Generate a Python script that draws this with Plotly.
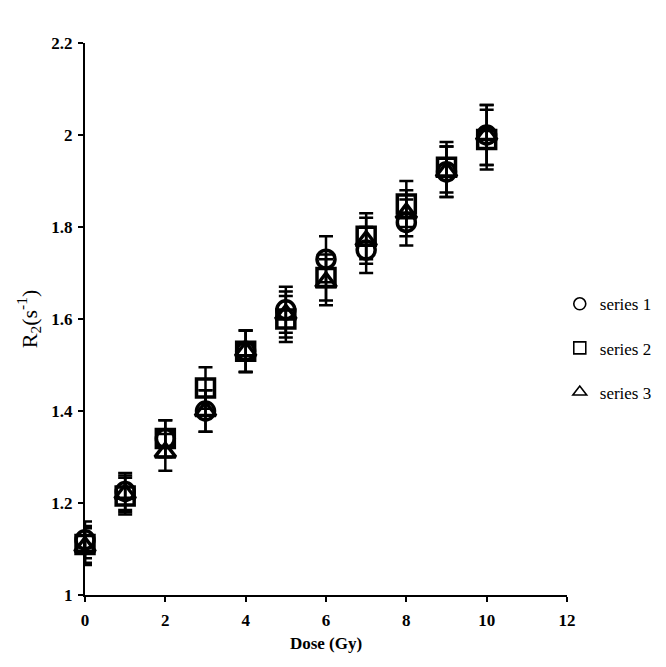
import plotly.graph_objects as go

dose = [0, 1, 2, 3, 4, 5, 6, 7, 8, 9, 10]
series1 = [1.12, 1.225, 1.34, 1.40, 1.53, 1.62, 1.73, 1.75, 1.81, 1.92, 2.00]
series2 = [1.11, 1.215, 1.34, 1.45, 1.53, 1.60, 1.69, 1.78, 1.85, 1.93, 1.99]
series3 = [1.105, 1.22, 1.31, 1.40, 1.53, 1.61, 1.68, 1.77, 1.83, 1.92, 2.00]
err1 = [0.04, 0.04, 0.04, 0.045, 0.045, 0.05, 0.05, 0.05, 0.05, 0.055, 0.065]
err2 = [0.04, 0.04, 0.04, 0.045, 0.045, 0.05, 0.05, 0.05, 0.05, 0.055, 0.065]
err3 = [0.04, 0.04, 0.04, 0.045, 0.045, 0.05, 0.05, 0.05, 0.05, 0.055, 0.065]
names = ["series 1", "series 2", "series 3"]
symbols = ["circle-open", "square-open", "triangle-up-open"]

fig = go.Figure()
for ys, es, sym, nm in zip([series1, series2, series3], [err1, err2, err3], symbols, names):
    fig.add_trace(go.Scatter(
        x=dose, y=ys, mode="markers", showlegend=False, cliponaxis=False,
        marker=dict(symbol=sym, size=18, color="black", line=dict(width=3.5, color="black")),
        error_y=dict(type="data", array=es, visible=True, color="black", thickness=2.5, width=7),
    ))
for sym, nm in zip(symbols, names):
    fig.add_trace(go.Scatter(
        x=[None], y=[None], mode="markers", name=nm, legendgroup=nm,
        marker=dict(symbol=sym, size=12, color="black", line=dict(width=1.6, color="black")),
    ))

serif = "Liberation Serif"
fig.update_layout(
    width=658, height=659,
    margin=dict(l=77, r=99, t=35, b=72, autoexpand=False),
    plot_bgcolor="white", paper_bgcolor="white",
    font=dict(family=serif, color="black"),
    legend=dict(x=0.985, y=0.447, xanchor="left", yanchor="middle",
                font=dict(size=17, family=serif, color="black"), itemwidth=30,
                tracegroupgap=19, bgcolor="rgba(0,0,0,0)"),
    xaxis=dict(range=[0, 12], tickvals=[0, 2, 4, 6, 8, 10, 12], showgrid=False, zeroline=False,
               showline=True, linecolor="black", linewidth=2, ticks="outside", ticklen=5,
               tickwidth=2, tickcolor="black", ticklabelstandoff=4,
               tickfont=dict(size=17, family=serif, weight="bold", color="black"),
               title=dict(text="<b>Dose (Gy)</b>", font=dict(size=17, family=serif, color="black"), standoff=8)),
    yaxis=dict(range=[1, 2.2], tickvals=[1, 1.2, 1.4, 1.6, 1.8, 2, 2.2],
               ticktext=["1", "1.2", "1.4", "1.6", "1.8", "2", "2.2"],
               showgrid=False, zeroline=False,
               showline=True, linecolor="black", linewidth=2, ticks="outside", ticklen=5,
               tickwidth=2, tickcolor="black", ticklabelstandoff=2,
               tickfont=dict(size=17, family=serif, weight="bold", color="black"),
               title=dict(text="R<sub>2</sub>(s<sup>-1</sup>)", font=dict(size=22, family=serif, color="black"), standoff=8)),
)
fig.write_html("out.html")
